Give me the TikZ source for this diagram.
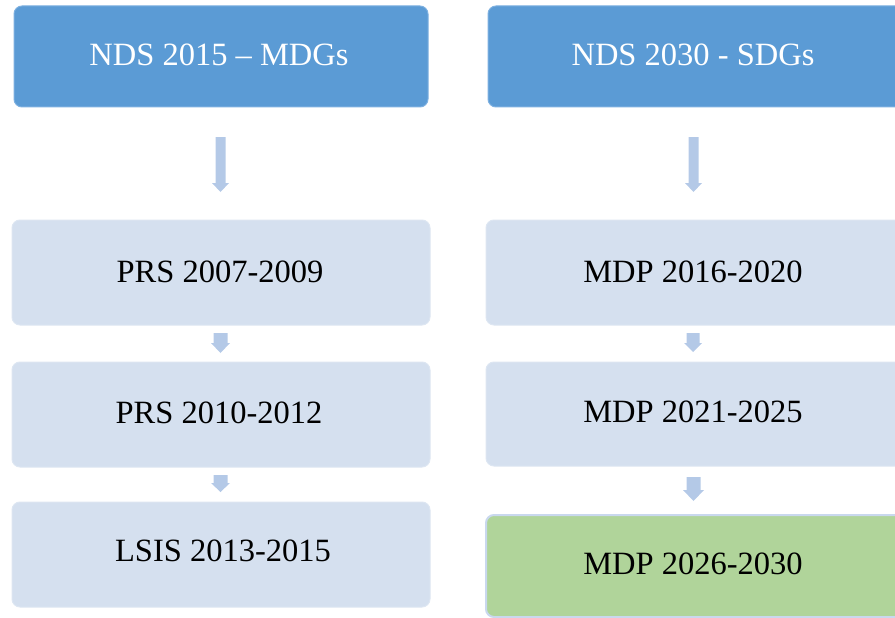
\documentclass[tikz,border=0pt]{standalone}
\usepackage{fontspec}
\setmainfont{Liberation Serif}
\definecolor{topblue}{HTML}{5B9BD5}
\definecolor{topedge}{HTML}{7DB0E0}
\definecolor{lightbox}{HTML}{D5E0EF}
\definecolor{lightedge}{HTML}{DDE6F2}
\definecolor{arrowblue}{HTML}{B4C9E7}
\definecolor{greenbox}{HTML}{B0D49A}
\definecolor{greenedge}{HTML}{C9D8EE}
\tikzset{
  boxbase/.style={rounded corners=8pt, line width=1pt},
  topbox/.style={boxbase, fill=topblue, draw=topedge},
  stagebox/.style={boxbase, fill=lightbox, draw=lightedge},
  greenstage/.style={boxbase, fill=greenbox, draw=greenedge, line width=2pt},
  boxtext/.style={font=\fontsize{32.5}{38}\selectfont, inner sep=0pt},
  arrowfill/.style={fill=arrowblue, draw=none}
}
% block arrow: center x, top y, head start y, tip y, shaft half-width, head half-width
\newcommand{\blockarr}[6]{%
  \fill[arrowfill] (#1-#5,#2) -- (#1+#5,#2) -- (#1+#5,#3) -- (#1+#6,#3) -- (#1,#4)
     -- (#1-#6,#3) -- (#1-#5,#3) -- cycle;}
\begin{document}
\begin{tikzpicture}[x=1pt,y=-1pt]
\useasboundingbox (0,0) rectangle (895,618);
\clip (0,0) rectangle (895,618);
% left column
\draw[topbox] (14,6) rectangle (428,107);
\node[boxtext, text=white] (nds15) at (219,55) {NDS 2015 – MDGs};
\draw[stagebox] (12,220) rectangle (430,325);
\node[boxtext] (prs1) at (220,272) {PRS 2007-2009};
\draw[stagebox] (12,362) rectangle (430,467);
\node[boxtext] (prs2) at (219,413) {PRS 2010-2012};
\draw[stagebox] (12,502) rectangle (430,607);
\node[boxtext] (lsis) at (223,551) {LSIS 2013-2015};
% right column
\draw[topbox] (488,6) rectangle (905,107);
\node[boxtext, text=white] (nds30) at (693,55) {NDS 2030 - SDGs};
\draw[stagebox] (486,220) rectangle (905,325);
\node[boxtext] (mdp1) at (693,272) {MDP 2016-2020};
\draw[stagebox] (486,362) rectangle (905,466);
\node[boxtext] (mdp2) at (693,412) {MDP 2021-2025};
\draw[greenstage] (486,515) rectangle (905,617);
\node[boxtext] (mdp3) at (693,564) {MDP 2026-2030};
% arrows left
\blockarr{220.5}{137}{183}{192}{5}{8.5}
\blockarr{220.5}{333}{343}{353}{7}{9.5}
\blockarr{220.5}{475}{483}{492}{7}{9.5}
% arrows right
\blockarr{693.5}{137}{183}{192}{5}{8.5}
\blockarr{693}{333}{343}{352}{6.5}{9}
\blockarr{693.5}{477}{490}{501}{7}{10.5}
\end{tikzpicture}
\end{document}
